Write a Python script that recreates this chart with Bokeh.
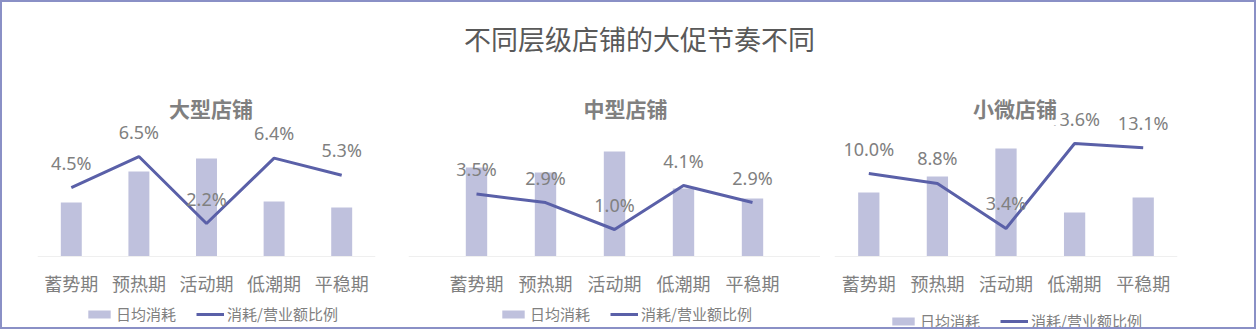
from bokeh.plotting import figure
from bokeh.models import (Range1d, FactorRange, ColumnDataSource, LabelSet, Legend,
                          LegendItem, Label)
from bokeh.layouts import row
from bokeh.embed import file_html
from bokeh.resources import INLINE
from bokeh.core.properties import value

# ---------------- data ----------------
phases = ["蓄势期", "预热期", "活动期", "低潮期", "平稳期"]
panel_titles = ["大型店铺", "中型店铺", "小微店铺"]
main_title = "不同层级店铺的大促节奏不同"
legend_bar = "日均消耗"
legend_line = "消耗/营业额比例"

large_daily = [5.4, 8.5, 9.8, 5.5, 4.9]
large_ratio = [4.5, 6.5, 2.2, 6.4, 5.3]
mid_daily = [8.9, 8.4, 10.5, 6.8, 5.8]
mid_ratio = [3.5, 2.9, 1.0, 4.1, 2.9]
small_daily = [6.4, 8.0, 10.8, 4.4, 5.9]
small_ratio = [10.0, 8.8, 3.4, 13.6, 13.1]

# ---------------- style ----------------
BAR_COLOR = "#BFC1DD"
LINE_COLOR = "#5A60A8"
TEXT_GRAY = "#808080"
CJK = "Noto Sans CJK SC"
LATIN = "Noto Sans"

FIG_H = 325

panels = [
    dict(title=panel_titles[0], daily=large_daily, ratio=large_ratio,
         left=35, frame_w=338, right=33, pad=0.0,
         ratio_range=(-4.474, 16.386),
         title_pos=(173.5, 220), title_pad=1, legend_loc=(48, 3)),
    dict(title=panel_titles[1], daily=mid_daily, ratio=mid_ratio,
         left=0, frame_w=412, right=0, pad=0.4855,
         ratio_range=(-5.906, 16.998),
         title_pos=(217, 220), title_pad=1, legend_loc=(91, 3)),
    dict(title=panel_titles[2], daily=small_daily, ratio=small_ratio,
         left=14, frame_w=343, right=77, pad=0.0,
         ratio_range=(-8.487, 30.528),
         title_pos=(180.5, 220), title_pad=3, legend_loc=(55, -4)),
]

figs = []
for i, cfg in enumerate(panels):
    p = figure(x_range=FactorRange(*phases, range_padding=cfg["pad"],
                                   range_padding_units="absolute"),
               y_range=Range1d(-7.1, 25.4),
               frame_width=cfg["frame_w"], frame_height=FIG_H,
               min_border_left=cfg["left"], min_border_right=cfg["right"],
               min_border_top=0, min_border_bottom=0,
               output_backend="svg", toolbar_location=None,
               background_fill_color="white", border_fill_color="white")
    p.title = None
    p.extra_y_ranges = {"ratio": Range1d(*cfg["ratio_range"])}

    src = ColumnDataSource(dict(
        x=phases, daily=cfg["daily"], ratio=cfg["ratio"],
        label=[f"{v:.1f}%" for v in cfg["ratio"]]))

    bars = p.vbar(x="x", top="daily", bottom=0, width=0.31, source=src,
                  fill_color=BAR_COLOR, line_color=None)
    line = p.line(x="x", y="ratio", source=src, y_range_name="ratio",
                  line_color=LINE_COLOR, line_width=3)

    labels = LabelSet(x="x", y="ratio", text="label", source=src,
                      y_range_name="ratio", text_align="center",
                      text_baseline="middle", y_offset=25,
                      text_font=value(LATIN), text_font_size="18px",
                      text_color=TEXT_GRAY)
    p.add_layout(labels)

    # panel title drawn over the data labels (as in the original)
    tx, ty = cfg["title_pos"]
    p.add_layout(Label(x=tx, y=ty, x_units="screen", y_units="screen",
                       text=cfg["title"], text_align="center",
                       text_baseline="middle", text_font=CJK,
                       text_font_size="21px", text_font_style="bold",
                       text_color=TEXT_GRAY, background_fill_color="white",
                       padding=cfg["title_pad"]))

    if i == 1:
        p.add_layout(Label(x=231, y=289, x_units="screen", y_units="screen",
                           text=main_title, text_align="center",
                           text_baseline="middle", text_font=CJK,
                           text_font_size="27px", text_color="#595959"))

    p.yaxis.visible = False
    p.xgrid.grid_line_color = None
    p.ygrid.grid_line_color = None
    p.outline_line_color = None
    p.xaxis.fixed_location = 0
    p.xaxis.axis_line_color = "#EFEFEF"
    p.xaxis.major_tick_line_color = None
    p.xaxis.minor_tick_line_color = None
    p.xaxis.major_tick_out = 0
    p.xaxis.major_tick_in = 0
    p.xaxis.major_label_standoff = 13
    p.xaxis.major_label_text_font = CJK
    p.xaxis.major_label_text_font_size = "18px"
    p.xaxis.major_label_text_color = TEXT_GRAY

    legend = Legend(items=[LegendItem(label=legend_bar, renderers=[bars]),
                           LegendItem(label=legend_line, renderers=[line])],
                    location=cfg["legend_loc"], orientation="horizontal",
                    padding=0, margin=0, spacing=20, label_standoff=3,
                    glyph_width=28, glyph_height=10,
                    border_line_color=None, background_fill_alpha=0,
                    label_text_font=CJK, label_text_font_size="15px",
                    label_text_color=TEXT_GRAY)
    p.add_layout(legend)
    figs.append(p)

layout = row(*figs, styles={"border": "2px solid #8A90C6"})

open("out.html", "w").write(file_html(layout, INLINE))
